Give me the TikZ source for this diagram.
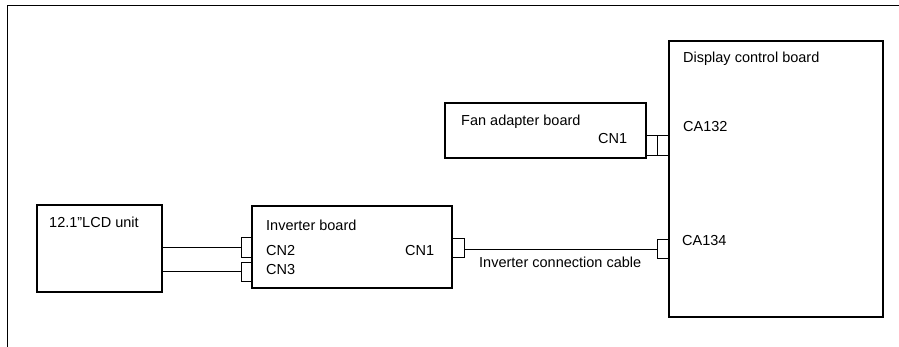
\documentclass[tikz,border=0pt]{standalone}
\usepackage{fontspec}
\setmainfont{Liberation Sans}
\begin{document}
\begin{tikzpicture}[x=1pt,y=-1pt,
  box/.style={draw, line width=1.1pt, rectangle, inner sep=0pt},
  conn/.style={draw, line width=0.8pt, rectangle, inner sep=0pt},
  lbl/.style={anchor=base west, inner sep=0pt, font=\fontsize{14.5}{16}\selectfont},
  wire/.style={line width=0.9pt}]
\useasboundingbox (0,0) rectangle (899,347);
% outer frame
\coordinate (fbl) at (7,347);
\coordinate (ftl) at (7,6);
\coordinate (ftr) at (899,6);
\draw[line width=1pt] (fbl) -- (ftl) -- (ftr);
% boxes
\node[box, minimum width=214pt, minimum height=276pt] (disp) at (776,179) {};
\node[box, minimum width=201pt, minimum height=55pt] (fan) at (545.5,130.5) {};
\node[box, minimum width=125pt, minimum height=87pt] (lcd) at (99.5,248.5) {};
\node[box, minimum width=200pt, minimum height=82pt] (inv) at (352,247) {};
% connectors
\node[conn, minimum width=11.5pt, minimum height=20pt] (fc1) at (651.75,145) {};
\node[conn, minimum width=11.5pt, minimum height=20pt] (fc2) at (663.25,145) {};
\node[conn, minimum width=11pt, minimum height=20pt] (cn2) at (246.5,247) {};
\node[conn, minimum width=11pt, minimum height=19pt] (cn3) at (246.5,271.5) {};
\node[conn, minimum width=12pt, minimum height=19pt] (cn1) at (458,247.5) {};
\node[conn, minimum width=12pt, minimum height=19pt] (ca134) at (663,248.5) {};
% wires
\draw[wire] (lcd.east |- cn2) -- (cn2.west);
\draw[wire] (lcd.east |- cn3) -- (cn3.west);
\draw[wire] (cn1.east |- 0,249) -- (ca134.west |- 0,249);
% labels
\node[lbl] (tdisp) at (683,63) {Display control board};
\node[lbl] (tca132) at (683,132) {CA132};
\node[lbl] (tca134) at (682,246) {CA134};
\node[lbl] (tfan) at (461,126) {Fan adapter board};
\node[lbl] (tfcn1) at (598,144) {CN1};
\node[lbl] (tlcd) at (49,228) {12.1”LCD unit};
\node[lbl] (tinv) at (266,231) {Inverter board};
\node[lbl] (tcn2) at (266,255) {CN2};
\node[lbl] (tcn3) at (266,275) {CN3};
\node[lbl] (tcn1) at (405,255) {CN1};
\node[lbl] (tcable) at (479,268) {Inverter connection cable};
\end{tikzpicture}
\end{document}
